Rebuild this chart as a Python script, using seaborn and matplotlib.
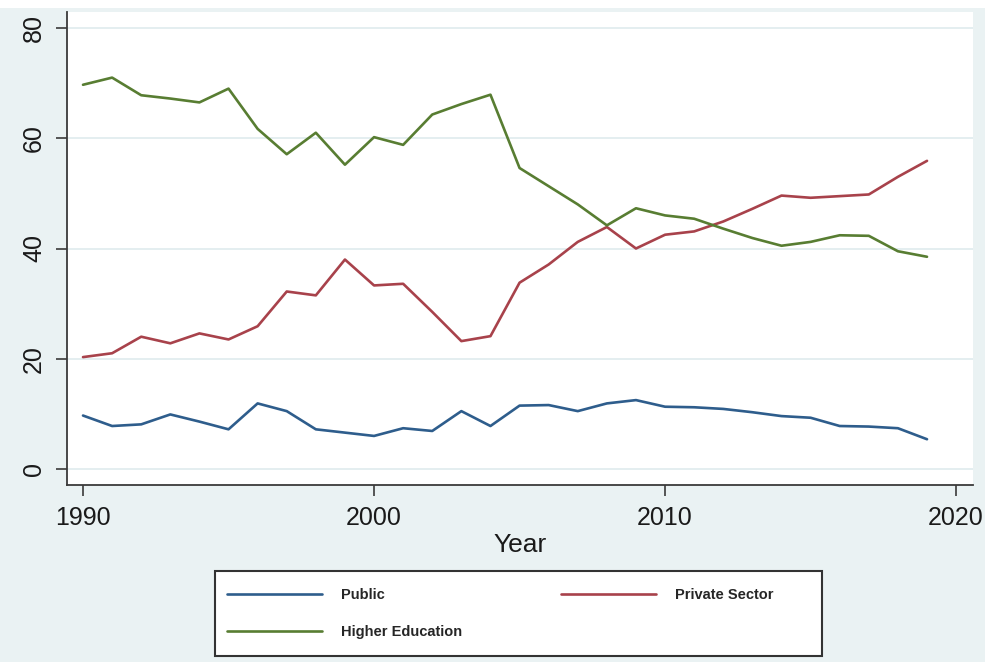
import numpy as np
import pandas as pd
import matplotlib.pyplot as plt
import seaborn as sns

years = list(range(1990, 2020))

public = [9.7, 7.8, 8.1, 9.9, 8.6, 7.2, 11.9, 10.5, 7.2, 6.6,
          6.0, 7.4, 6.9, 10.5, 7.8, 11.5, 11.6, 10.5, 11.9, 12.5,
          11.3, 11.2, 10.9, 10.3, 9.6, 9.3, 7.8, 7.7, 7.4, 5.4]
private_sector = [20.3, 21.0, 24.0, 22.8, 24.6, 23.5, 25.9, 32.2, 31.5, 38.0,
                  33.3, 33.6, 28.5, 23.2, 24.1, 33.8, 37.1, 41.2, 43.9, 40.0,
                  42.5, 43.1, 44.9, 47.2, 49.6, 49.2, 49.5, 49.8, 53.0, 55.9]
higher_ed = [69.7, 71.0, 67.8, 67.2, 66.5, 69.0, 61.7, 57.1, 61.0, 55.2,
             60.2, 58.8, 64.3, 66.2, 67.9, 54.6, 51.3, 48.0, 44.2, 47.3,
             46.0, 45.4, 43.6, 41.9, 40.5, 41.2, 42.4, 42.3, 39.5, 38.5]

series_names = ["Public", "Private Sector", "Higher Education"]
colors = ["#2e5d8c", "#a8424b", "#587d32"]
x_ticks = [1990, 2000, 2010, 2020]
y_ticks = [0, 20, 40, 60, 80]

df = pd.DataFrame({
    "Year": years * 3,
    "value": public + private_sector + higher_ed,
    "sector": [series_names[0]] * 30 + [series_names[1]] * 30 + [series_names[2]] * 30,
})

sns.set_style("white")
plt.rcParams["font.family"] = ["Liberation Sans", "DejaVu Sans"]

W, H = 985, 662
bg = "#eaf2f3"
fig = plt.figure(figsize=(9.85, 6.62), dpi=100, facecolor=bg)
# white strip at the very top (clipped caption area)
fig.patches.append(plt.Rectangle((0, 1 - 8 / H), 1, 8 / H, transform=fig.transFigure,
                                 facecolor="white", edgecolor="none", zorder=0))

ax = fig.add_axes([67 / W, 1 - 485 / H, (973 - 67) / W, (485 - 12) / H])
ax.set_facecolor("white")

sns.lineplot(data=df, x="Year", y="value", hue="sector", palette=colors,
             hue_order=series_names, linewidth=1.9, ax=ax, legend=False)

ax.set_xlim(1989.45, 2020.58)
ax.set_ylim(-2.9, 82.9)
ax.set_xticks(x_ticks)
ax.set_yticks(y_ticks)
ax.yaxis.grid(True, color="#e2edef", linewidth=1.3)
ax.xaxis.grid(False)

for s in ["top", "right"]:
    ax.spines[s].set_visible(False)
for s in ["left", "bottom"]:
    ax.spines[s].set_color("#3a3a3a")
    ax.spines[s].set_linewidth(1.3)

ax.tick_params(axis="both", direction="out", length=8, width=1.2, color="#3a3a3a",
               labelsize=18, labelcolor="#1a1a1a", bottom=True, left=True)
ax.tick_params(axis="x", pad=7)
ax.tick_params(axis="y", pad=7)
for lab in ax.get_yticklabels():
    lab.set_rotation(90)
    lab.set_va("center")

ax.set_xlabel("Year", fontsize=19, color="#1a1a1a", labelpad=2)
ax.set_ylabel("")

# legend box drawn separately (Stata-style padding)
fig.patches.append(plt.Rectangle((215 / W, 1 - 656 / H), (822 - 215) / W, (656 - 571) / H,
                                 transform=fig.transFigure, facecolor="white",
                                 edgecolor="#333333", linewidth=1.5, zorder=1))

# column-wise fill: Public / Higher Education in col 1, Private Sector in col 2
order = [0, 2, 1]
handles = [plt.Line2D([], [], color=colors[i], linewidth=1.9) for i in order]
labels = [series_names[i] for i in order]
leg = fig.legend(handles, labels, loc="upper left",
                 bbox_to_anchor=(227 / W, 1 - 588 / H),
                 ncol=2, frameon=False, borderpad=0, borderaxespad=0,
                 handlelength=6.5, handletextpad=1.3, labelspacing=1.55, columnspacing=6.8,
                 prop={"family": ["Liberation Sans", "DejaVu Sans"],
                       "weight": "bold", "size": 10.5})
leg.set_zorder(2)

fig.savefig("out.png", dpi=100, facecolor=bg)
